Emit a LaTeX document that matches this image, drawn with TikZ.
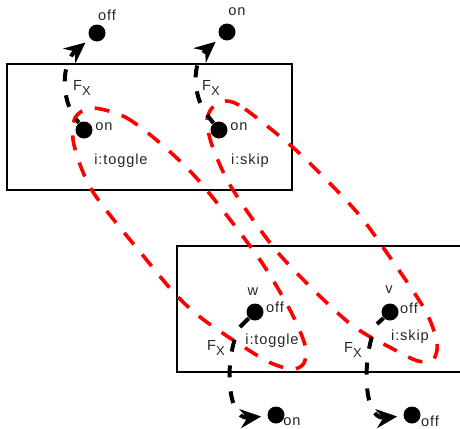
\documentclass[tikz,border=0pt]{standalone}
\usepackage{fontspec}
\setmainfont{Liberation Sans}[LetterSpace=6]
\usetikzlibrary{arrows.meta}
\tikzset{
  dot/.style={circle,fill=black,inner sep=0pt,minimum size=8.5pt},
  lbl/.style={font=\fontsize{7.3}{8}\selectfont,inner sep=0pt,text=black!85},
  stub/.style={line width=2pt},
  flow/.style={line width=2pt,dash pattern=on 6pt off 7pt,dash phase=6pt,
    -{Stealth[length=10.5pt,width=9.5pt,inset=3.5pt]},shorten >=3pt},
  loopline/.style={red,line width=1.8pt,dash pattern=on 7.5pt off 6.5pt}
}
\newcommand{\fx}{F\raisebox{-.55ex}{\fontsize{6.5}{7}\selectfont X}}
\begin{document}
\begin{tikzpicture}[x=0.5pt,y=-0.5pt]
\useasboundingbox (0,0) rectangle (460,428);
% the two boxes
\draw[line width=.75pt] (7,64) rectangle (292,190);
\draw[line width=.75pt] (470,246) -- (177,246) -- (177,372) -- (470,372);
% red loops
\draw[loopline] plot[smooth cycle] coordinates {(92,108) (125,117) (160,143) (200,182) (258,257) (290,310) (305,345) (304,363) (292,369) (265,360) (208,323) (178,297) (145,258) (93,192) (74,145) (75,118)};
\draw[loopline] plot[smooth cycle] coordinates {(226,101) (245,109) (298,152) (355,210) (387,253) (425,310) (437,343) (433,360) (418,361) (395,350) (348,322) (280,255) (233,190) (213,148) (207,122) (212,108)};
% top box
\node[dot] (a) at (84,130) {};
\node[lbl] (aon) at (104,127) {on};
\node[lbl] (atoggle) at (121,161) {i:toggle};
\node[lbl] (afx) at (82,88) {\fx};
\node[dot] (b) at (219,130) {};
\node[lbl] (bon) at (239,127) {on};
\node[lbl] (bskip) at (250,161) {i:skip};
\node[lbl] (bfx) at (211,88) {\fx};
\node[dot] (aout) at (97,33) {};
\node[lbl] (aoutoff) at (107,15) {off};
\node[dot] (bout) at (227,32) {};
\node[lbl] (bouton) at (237,12) {on};
% bottom box
\node[dot] (w) at (255,312) {};
\node[lbl] (wname) at (253,292) {w};
\node[lbl] (woff) at (275,307) {off};
\node[lbl] (wtoggle) at (272,341) {i:toggle};
\node[lbl] (wfx) at (216,348) {\fx};
\node[dot] (v) at (390,312) {};
\node[lbl] (vname) at (389,290) {v};
\node[lbl] (voff) at (409,308) {off};
\node[lbl] (vskip) at (410,337) {i:skip};
\node[lbl] (vfx) at (353,350) {\fx};
\node[dot] (wout) at (276,415) {};
\node[lbl] (wouton) at (292,422) {on};
\node[dot] (vout) at (412,415) {};
\node[lbl] (voutoff) at (430,421) {off};
% transitions
\coordinate (a1) at (76,119);
\draw[stub] (a) -- (a1);
\draw[flow] (a1) .. controls (60,98) and (62,62) .. (aout);
\coordinate (b1) at (207,115);
\draw[stub] (b) -- (b1);
\draw[flow] (b1) .. controls (192,95) and (192,62) .. (bout);
\coordinate (w1) at (240,327);
\draw[stub] (w) -- (w1);
\draw[flow] (w1) .. controls (224,355) and (226,420) .. (wout);
\coordinate (v1) at (377,324);
\draw[stub] (v) -- (v1);
\draw[flow] (v1) .. controls (362,352) and (362,420) .. (vout);
\end{tikzpicture}
\end{document}
